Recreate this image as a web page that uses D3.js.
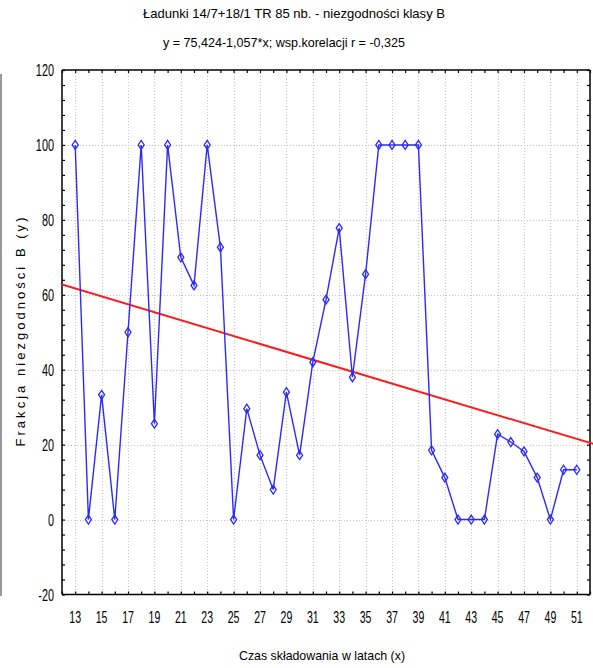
<!DOCTYPE html>
<html>
<head>
<meta charset="utf-8">
<script src="https://cdn.jsdelivr.net/npm/d3@7"></script>
<style>
  html, body { margin: 0; padding: 0; background: #fff; }
  svg { display: block; }
  text { font-family: "Liberation Sans", Arial, sans-serif; fill: #000; }
</style>
</head>
<body>
<script>
// Storage time in years (x) and class-B nonconformity fraction (y)
const years = [13,14,15,16,17,18,19,20,21,22,23,24,25,26,27,28,29,30,31,32,33,34,35,36,37,38,39,40,41,42,43,44,45,46,47,48,49,50,51];
const fraction = [100,0,33.3,0,50,100,25.6,100,70,62.5,100,72.7,0,29.6,17.2,8,34,17.2,42,58.7,77.8,38,65.5,100,100,100,100,18.5,11.2,0,0,0,22.8,20.7,18.2,11.2,0,13.3,13.3];

// Regression: y = a + b*x
const regA = 75.424;
const regB = -1.057;

const xTickLabels = d3.range(13, 52, 2);
const yTickLabels = [-20, 0, 20, 40, 60, 80, 100, 120];

const titleLine1 = "Ładunki 14/7+18/1  TR 85 nb. - niezgodności klasy B";
const titleLine2 = "y = 75,424-1,057*x; wsp.korelacji r = -0,325";
const xTitle = "Czas składowania w latach (x)";
const yTitle = "Frakcja niezgodności B (y)";

const W = 593, H = 668;
const plot = { left: 62, right: 590, top: 70, bottom: 594.5 };

const svg = d3.select("body").append("svg").attr("width", W).attr("height", H);

const x = d3.scaleLinear().domain([12, 52]).range([plot.left, plot.right]);
const y = d3.scaleLinear().domain([-20, 120]).range([plot.bottom, plot.top]);

// window edge line on the far left
svg.append("line").attr("x1", 1).attr("x2", 1).attr("y1", 74).attr("y2", 596)
  .attr("stroke", "#777").attr("stroke-width", 1.5);

// Titles
svg.append("text").attr("x", 294).attr("y", 18).attr("text-anchor", "middle")
  .attr("font-size", 13).attr("textLength", 302).attr("lengthAdjust", "spacingAndGlyphs")
  .text(titleLine1);
svg.append("text").attr("x", 284).attr("y", 47).attr("text-anchor", "middle")
  .attr("font-size", 13).attr("textLength", 242).attr("lengthAdjust", "spacingAndGlyphs")
  .text(titleLine2);

// Gridlines (dotted)
const grid = svg.append("g").attr("stroke", "#c4c4c4").attr("stroke-width", 1).attr("stroke-dasharray", "1,2");
grid.selectAll("line.gx").data(xTickLabels).join("line")
  .attr("x1", d => Math.round(x(d)) + 0.5).attr("x2", d => Math.round(x(d)) + 0.5)
  .attr("y1", plot.top).attr("y2", plot.bottom);
grid.selectAll("line.gy").data(yTickLabels.slice(1, -1)).join("line")
  .attr("x1", plot.left).attr("x2", plot.right)
  .attr("y1", d => Math.round(y(d)) + 0.5).attr("y2", d => Math.round(y(d)) + 0.5);

// Axes with inward ticks
const yMinor = d3.range(-20, 121, 4);
const xMinor = d3.range(12, 53, 1);

const axL = d3.axisLeft(y).tickValues(yMinor).tickSize(-3).tickFormat("");
const axR = d3.axisRight(y).tickValues(yMinor).tickSize(-3).tickFormat("");
const axB = d3.axisBottom(x).tickValues(xMinor).tickSize(-3).tickFormat("");
const axT = d3.axisTop(x).tickValues(xMinor).tickSize(-3).tickFormat("");

function styleAxis(g) {
  g.select(".domain").attr("stroke", "#000").attr("stroke-width", 1.5);
  g.selectAll(".tick line").attr("stroke", "#000").attr("stroke-width", 1.2);
}
svg.append("g").attr("transform", `translate(${plot.left},0)`).call(axL).call(g => g.select(".domain").attr("d", `M0,${plot.top}V${plot.bottom}`)).call(styleAxis);
svg.append("g").attr("transform", `translate(${plot.right},0)`).call(axR).call(g => g.select(".domain").attr("d", `M0,${plot.top}V${plot.bottom}`)).call(styleAxis);
svg.append("g").attr("transform", `translate(0,${plot.bottom})`).call(axB).call(g => g.select(".domain").attr("d", `M${plot.left},0H${plot.right}`)).call(styleAxis);
svg.append("g").attr("transform", `translate(0,${plot.top})`).call(axT).call(g => g.select(".domain").attr("d", `M${plot.left},0H${plot.right}`)).call(styleAxis);

// Tick labels (condensed face)
svg.append("g").selectAll("text").data(yTickLabels).join("text")
  .attr("transform", d => `translate(54,${y(d) + 6}) scale(0.68,1)`)
  .attr("text-anchor", "end").attr("font-size", 16).text(d => d);
svg.append("g").selectAll("text").data(xTickLabels).join("text")
  .attr("transform", d => `translate(${x(d)},623) scale(0.66,1)`)
  .attr("text-anchor", "middle").attr("font-size", 16).text(d => d);

// Axis titles
svg.append("text").attr("x", 322).attr("y", 660).attr("text-anchor", "middle")
  .attr("font-size", 13).attr("textLength", 166).attr("lengthAdjust", "spacingAndGlyphs")
  .text(xTitle);
svg.append("text").attr("transform", `translate(25,332) rotate(-90)`).attr("text-anchor", "middle")
  .attr("font-size", 13).attr("textLength", 229).attr("lengthAdjust", "spacing")
  .text(yTitle);

// Clip to plot area
svg.append("clipPath").attr("id", "plotclip").append("rect")
  .attr("x", plot.left).attr("y", plot.top).attr("width", plot.right - plot.left + 4).attr("height", plot.bottom - plot.top);

// Regression line
const regX = [12, 52.3];
svg.append("line").attr("clip-path", "url(#plotclip)")
  .attr("x1", x(regX[0])).attr("y1", y(regA + regB * regX[0]))
  .attr("x2", x(regX[1])).attr("y2", y(regA + regB * regX[1]))
  .attr("stroke", "#ff1a1a").attr("stroke-width", 2);

// Data series
const pts = years.map((yr, i) => [yr, fraction[i]]);
svg.append("path").datum(pts)
  .attr("d", d3.line().x(d => x(d[0])).y(d => y(d[1])))
  .attr("fill", "none").attr("stroke", "#2a2aff").attr("stroke-width", 1.4);

// Diamond markers
svg.append("g").selectAll("path").data(pts).join("path")
  .attr("transform", d => `translate(${x(d[0])},${y(d[1])})`)
  .attr("d", "M0,-4.5L3,0L0,4.5L-3,0Z")
  .attr("fill", "none").attr("stroke", "#2a2aff").attr("stroke-width", 1.3);
</script>
</body>
</html>
